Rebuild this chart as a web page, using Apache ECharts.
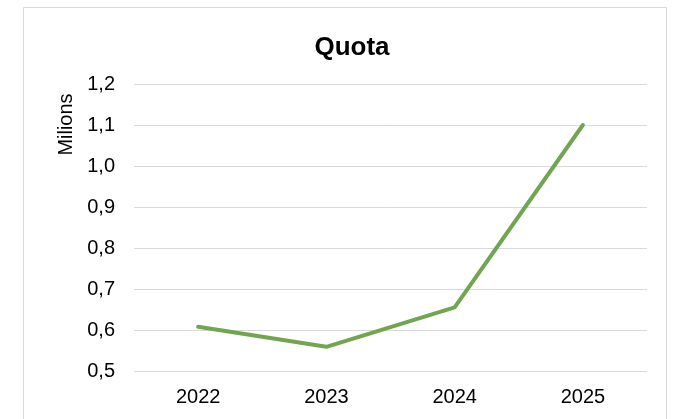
<!DOCTYPE html>
<html>
<head>
<meta charset="utf-8">
<script src="https://cdn.jsdelivr.net/npm/echarts@6/dist/echarts.min.js"></script>
<style>
html,body{margin:0;padding:0;background:#fff;}
#c{width:673px;height:419px;}
</style>
</head>
<body>
<div id="c"></div>
<script>
const categories = ['2022', '2023', '2024', '2025'];
const quotaValues = [0.608, 0.559, 0.655, 1.1];
const yTicks = { min: 0.5, max: 1.2, interval: 0.1 };
const titleText = 'Quota';
const yAxisTitle = 'Milions';

const FONT = '"Liberation Sans", Arial, sans-serif';
const chart = echarts.init(document.getElementById('c'), null, { renderer: 'canvas' });
chart.setOption({
  animation: false,
  backgroundColor: '#ffffff',
  graphic: [{
    type: 'rect',
    shape: { x: 23.5, y: 7.5, width: 643, height: 430 },
    style: { fill: 'none', stroke: '#d9d9d9', lineWidth: 1 },
    z: -1
  }, {
    type: 'text',
    x: 66,
    y: 124.5,
    rotation: Math.PI / 2,
    style: {
      text: yAxisTitle,
      font: '20px "Liberation Sans", Arial, sans-serif',
      fill: '#000',
      textAlign: 'center',
      textVerticalAlign: 'middle'
    }
  }],
  title: {
    text: titleText,
    left: 347,
    top: 30,
    textAlign: 'center',
    textStyle: { fontFamily: FONT, fontSize: 26, fontWeight: 'bold', color: '#000' }
  },
  grid: { left: 134, right: 26, top: 84, bottom: 48, containLabel: false },
  xAxis: {
    type: 'category',
    data: categories,
    boundaryGap: true,
    axisLine: { show: false },
    axisTick: { show: false },
    axisLabel: { fontFamily: FONT, fontSize: 20, color: '#000', margin: 16 }
  },
  yAxis: {
    type: 'value',
    min: yTicks.min,
    max: yTicks.max,
    interval: yTicks.interval,
    axisLine: { show: false },
    axisTick: { show: false },
    splitLine: { lineStyle: { color: '#d9d9d9', width: 1 } },
    axisLabel: {
      fontFamily: FONT, fontSize: 20, color: '#000', margin: 19,
      formatter: v => v.toFixed(1).replace('.', ',')
    }
  },
  series: [{
    type: 'line',
    data: quotaValues,
    symbol: 'none',
    lineStyle: { color: '#71a54f', width: 4, cap: 'round', join: 'round' },
    itemStyle: { color: '#71a54f' }
  }]
});
</script>
</body>
</html>
